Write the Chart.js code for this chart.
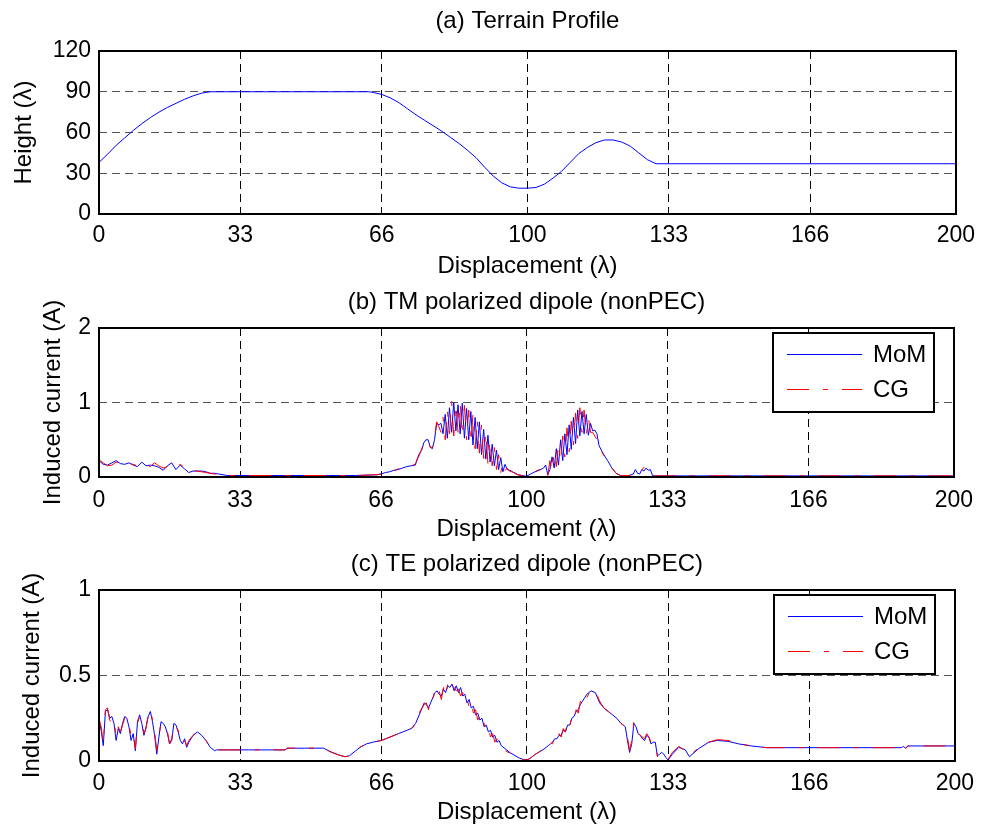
<!DOCTYPE html>
<html lang="en">

<head>
    <meta charset="UTF-8">
    <meta name="viewport" content="width=device-width, initial-scale=1.0">
    <title>Terrain Profile and Induced Current</title>
    <script src="https://cdn.jsdelivr.net/npm/chart.js"></script>
    <style>
        body {
            margin: 0;
            padding: 0;
            background-color: white;
        }

        .panel {
            position: absolute;
            left: 0;
        }
    </style>
</head>

<body>
    <canvas id="terrainChart" class="panel" width="983" height="285" style="top:0px"></canvas>
    <canvas id="tmChart" class="panel" width="983" height="260" style="top:285px"></canvas>
    <canvas id="teChart" class="panel" width="983" height="282" style="top:545px"></canvas>

    <script>
        // x ticks shared by the three panels (displacement in wavelengths)
        const xTicks = [0, 33, 66, 100, 133, 166, 200];

        // (a) terrain profile
        const terrainX = [0, 2, 4, 6, 8, 10, 12, 14, 16, 18, 20, 22, 24, 26,
            63, 64, 66, 68, 70, 72, 74, 76, 78, 80, 82, 84, 86, 88, 90, 92, 94, 96, 98, 100,
            102, 104, 106, 108, 110, 112, 114, 116, 118, 120, 122, 124, 126, 128, 130, 200];
        const terrainHeight = [38, 44, 50.5, 56, 61.5, 66.5, 71, 75, 78.5, 81.5, 84.5, 87, 89, 90,
            90, 89.5, 88, 85.5, 82, 77.5, 73, 69, 65, 61, 56.5, 52, 47, 41.5, 34.5, 28, 23, 20, 19, 19,
            19.5, 22, 26.5, 31.5, 38, 44.5, 49, 52.5, 54.5, 54.5, 53, 50, 45, 40, 37, 37];

        // (b) TM polarized dipole
        const tmX = [0, 1, 2, 3, 4, 5, 6, 7, 8, 9, 10, 11, 12, 13, 14, 15, 16, 17, 18, 19, 20, 21, 22, 23, 24, 25, 26, 27, 28, 30,
            40, 50, 60, 65,
            66, 67, 68, 69, 70, 71, 72, 73, 74, 74.5, 75, 75.5, 76, 76.5, 77, 77.5, 78, 78.5, 79, 79.5,
            80, 80.5, 81, 81.5, 82, 82.5, 83, 83.5, 84, 84.5, 85, 85.5, 86, 86.5, 87, 87.5, 88, 88.5,
            89, 89.5, 90, 90.5, 91, 91.5, 92, 92.5, 93, 93.5, 94, 94.5, 95, 95.5, 96,
            96.5, 97, 97.5, 98, 99, 100, 101, 102, 103, 104, 104.5, 105,
            105.5, 106, 106.5, 107, 107.5, 108, 108.5, 109, 109.5, 110, 110.5, 111, 111.5, 112, 112.5,
            113, 113.5, 114, 114.5, 115,
            115.5, 116, 116.5, 117, 118, 119, 120, 121, 122, 123, 124, 125, 125.5, 126, 126.5, 127,
            127.5, 128, 128.5, 129, 129.5, 130,
            140, 160, 180, 200];
        const tmMoM = [.22, .17, .16, .19, .22, .18, .17, .19, .16, .14, .2, .15, .16, .15, .13, .09, .15, .19, .1, .16, .11, .06, .08, .08, .08, .07, .05, .05, .04, .02,
            .02, .02, .02, .03,
            .04, .06, .07, .09, .1, .12, .14, .15, .16, .25, .32, .36, .46, .5, .5, .4, .38, .5, .72, .7,
            .72, .58, .84, .52, .93, .6, 1.0, .62, .97, .58, .99, .52, .92, .5, .88, .43, .8, .38,
            .74, .3, .64, .24, .56, .2, .44, .15, .36, .1, .26, .07, .17, .1, .09,
            .08, .06, .05, .03, .02, .01, .04, .07, .09, .12, .16, .03,
            .1, .27, .12, .38, .16, .5, .22, .58, .3, .7, .37, .8, .45, .9, .55,
            .88, .58, .84, .56, .72,
            .62, .63, .58, .42, .31, .22, .12, .05, .02, .02, .02, .04, .1, .05, .04, .1,
            .08, .12, .09, .1, .02, .015,
            .015, .015, .015, .015];
        const tmCG = [.23, .19, .15, .16, .2, .19, .16, .18, .17, .15, .18, .16, .14, .19, .15, .12, .14, .17, .12, .17, .13, .07, .08, .08, .07, .06, .05, .04, .04, .02,
            .02, .02, .02, .03,
            .04, .05, .07, .08, .11, .12, .14, .15, .17, .24, .3, .38, .44, .49, .48, .4, .4, .52, .74, .68,
            .6, .8, .5, .9, .58, 1.02, .55, .98, .6, 1.0, .55, .96, .5, .9, .45, .85, .38, .78,
            .32, .7, .25, .6, .18, .5, .15, .4, .1, .3, .06, .2, .09, .12, .08,
            .07, .06, .04, .03, .02, .01, .03, .07, .1, .11, .14, .02,
            .22, .08, .33, .14, .45, .2, .55, .27, .66, .34, .75, .43, .86, .52, .93,
            .6, .9, .55, .8, .6,
            .6, .55, .5, .4, .3, .21, .12, .05, .02, .02, .02, .03, .08, .07, .06, .09,
            .13, .1, .11, .1, .03, .015,
            .015, .015, .015, .015];

        // (c) TE polarized dipole
        const teX = [0, 0.5, 1, 1.5, 2, 2.5, 3, 3.5, 4, 4.5, 5, 5.5, 6, 6.5, 7, 7.5, 8, 8.5, 9, 9.5, 10,
            10.5, 11, 11.5, 12, 12.5, 13, 13.5, 14, 14.5, 15, 15.5, 16, 16.5, 17, 17.5, 18, 18.5, 19, 19.5,
            20, 20.5, 21, 22, 23, 24, 25, 26, 27,
            27.5, 30, 35, 40, 43.5, 44, 48, 52.5, 54, 56, 57.5, 58.5, 60, 61, 62.5, 64,
            66, 67, 68, 69, 70, 71, 72, 73, 74, 75, 76,
            76.5, 77, 77.5, 78, 78.5, 79, 79.5, 80, 80.5, 81, 81.5, 82, 82.5, 83, 83.5, 84, 84.5, 85,
            85.5, 86, 86.5, 87, 87.5, 88, 88.5, 89, 89.5, 90, 90.5, 91, 91.5, 92, 92.5, 93, 93.5,
            94, 95, 96, 97, 98, 99, 100,
            101, 102, 103, 104, 105,
            105.5, 106, 106.5, 107, 107.5, 108, 108.5, 109, 109.5, 110, 110.5, 111, 111.5, 112, 112.5, 113, 113.5, 114,
            115, 116, 117, 118, 119, 120, 121, 122, 123,
            123.5, 124, 124.5, 125, 125.5, 126, 126.5, 127, 127.5, 128, 128.5, 129, 129.5, 130, 130.5, 131,
            131.5, 132, 132.5, 133,
            134, 135.5, 137, 138, 140, 142.5, 144.5, 147, 149.5, 152.5, 156, 170, 187.5, 188, 188.5, 189, 200];
        const teMoM = [.24, .18, .09, .29, .3, .25, .26, .22, .12, .19, .16, .22, .26, .25, .2, .12, .16, .06, .23, .27, .22,
            .15, .2, .26, .29, .23, .15, .04, .14, .23, .22, .2, .16, .1, .12, .22, .21, .17, .12, .1,
            .13, .08, .11, .15, .17, .15, .12, .08, .06,
            .065, .065, .065, .065, .065, .075, .075, .075, .055, .035, .025, .03, .06, .08, .1, .11,
            .12, .13, .14, .15, .16, .17, .18, .19, .22, .28, .34,
            .33, .31, .34, .37, .4, .41, .39, .38, .42, .4, .44, .43, .45, .41, .44, .4, .43, .38,
            .39, .34, .36, .31, .32, .27, .28, .24, .25, .2, .21, .17, .18, .14, .15, .11, .12,
            .09, .07, .05, .035, .02, .01, .005,
            .02, .04, .055, .07, .09,
            .1, .11, .13, .13, .15, .15, .18, .17, .21, .21, .25, .26, .29, .3, .33, .35, .37, .39,
            .41, .4, .34, .31, .29, .27, .25, .22, .2,
            .12, .05, .1, .22, .2, .16, .15, .13, .12, .15, .14, .1, .11, .11, .03, .04,
            .05, .04, .02, .006,
            .04, .08, .065, .025, .07, .11, .12, .115, .1, .088, .078, .078, .078, .085, .075, .088, .088];
        const teCG = [.25, .2, .1, .3, .31, .24, .22, .24, .14, .2, .17, .21, .25, .26, .21, .15, .17, .07, .22, .26, .23,
            .16, .19, .27, .3, .24, .17, .06, .15, .22, .21, .2, .17, .1, .13, .21, .2, .18, .13, .1,
            .12, .09, .12, .15, .17, .15, .12, .08, .06,
            .065, .065, .065, .065, .065, .075, .075, .075, .055, .035, .025, .03, .06, .08, .1, .11,
            .12, .13, .14, .15, .16, .17, .18, .19, .21, .29, .33,
            .34, .3, .36, .35, .42, .39, .41, .36, .43, .38, .45, .41, .44, .43, .41, .42, .38, .4,
            .35, .37, .31, .34, .28, .3, .24, .26, .2, .22, .17, .19, .14, .16, .11, .13, .09,
            .08, .06, .045, .03, .02, .01, .005,
            .02, .04, .055, .07, .085,
            .11, .1, .14, .12, .16, .14, .19, .17, .23, .2, .26, .24, .3, .28, .35, .33, .38, .37,
            .42, .41, .35, .31, .29, .27, .25, .22, .2,
            .14, .06, .12, .23, .2, .17, .15, .14, .13, .16, .14, .11, .11, .1, .025, .04,
            .045, .04, .02, .01,
            .05, .085, .06, .03, .075, .11, .125, .12, .1, .088, .078, .078, .078, .09, .07, .088, .088];

        const fontFamily = '"Liberation Sans", Arial, sans-serif';
        Chart.defaults.font.family = fontFamily;
        Chart.defaults.color = '#000';

        const toPoints = (xs, ys) => xs.map((x, i) => ({ x: x, y: ys[i] }));

        // solid box round the plot area, like MATLAB's "box on"
        const axesBox = {
            id: 'axesBox',
            afterDatasetsDraw(chart) {
                const a = chart.chartArea;
                const ctx = chart.ctx;
                const l = Math.round(a.left), t = Math.round(a.top);
                const r = Math.round(a.right), b = Math.round(a.bottom);
                ctx.save();
                ctx.strokeStyle = '#000';
                ctx.lineWidth = 2;
                ctx.strokeRect(l, t, r - l, b - t);
                ctx.restore();
            }
        };

        // legend drawn inside the plot area, top right, with a frame
        const legendBox = {
            id: 'legendBox',
            afterDraw(chart, args, opts) {
                if (!opts.show) return;
                const a = chart.chartArea;
                const ctx = chart.ctx;
                const w = 161, h = 79;
                const x0 = Math.round(a.right) - 20 - w;
                const y0 = Math.round(a.top) + 5;
                ctx.save();
                ctx.fillStyle = '#fff';
                ctx.fillRect(x0, y0, w, h);
                ctx.strokeStyle = '#000';
                ctx.lineWidth = 2;
                ctx.strokeRect(x0, y0, w, h);
                chart.data.datasets.forEach((ds, i) => {
                    const y = y0 + 21 + i * 35;
                    ctx.strokeStyle = ds.borderColor;
                    ctx.lineWidth = 1;
                    ctx.setLineDash(ds.borderDash || []);
                    ctx.beginPath();
                    ctx.moveTo(x0 + 14, y + 0.5);
                    ctx.lineTo(x0 + 89, y + 0.5);
                    ctx.stroke();
                    ctx.setLineDash([]);
                    ctx.fillStyle = '#000';
                    ctx.font = '24px ' + fontFamily;
                    ctx.textBaseline = 'middle';
                    ctx.fillText(ds.label, x0 + 100, y + 1);
                });
                ctx.restore();
            }
        };

        function makeChart(id, p) {
            return new Chart(document.getElementById(id), {
                type: 'line',
                data: { datasets: p.datasets },
                options: {
                    responsive: false,
                    animation: false,
                    events: [],
                    layout: { padding: { left: 0, right: 26, top: 0, bottom: 0 } },
                    elements: {
                        point: { radius: 0 },
                        line: { tension: 0, borderWidth: 1, borderJoinStyle: 'bevel', fill: false }
                    },
                    plugins: {
                        legend: { display: false },
                        tooltip: { enabled: false },
                        title: {
                            display: true,
                            text: p.title,
                            fullSize: false,
                            color: '#000',
                            font: { size: 24, weight: 'normal' },
                            padding: { top: p.titleTop, bottom: p.titleBottom }
                        },
                        legendBox: { show: p.legend }
                    },
                    scales: {
                        x: {
                            type: 'linear',
                            min: 0,
                            max: 200,
                            afterBuildTicks: s => { s.ticks = xTicks.map(v => ({ value: v })); },
                            afterFit: s => { s.height = p.xAxisHeight; },
                            ticks: {
                                font: { size: 23 },
                                padding: p.xTickPad,
                                maxRotation: 0,
                                autoSkip: false,
                                callback: v => String(v)
                            },
                            grid: { color: '#000', drawTicks: false },
                            border: { display: false, dash: [8, 5] },
                            title: {
                                display: true,
                                text: 'Displacement (λ)',
                                font: { size: 24 },
                                padding: { top: 0, bottom: p.xTitlePad }
                            }
                        },
                        y: {
                            min: 0,
                            max: p.yMax,
                            afterFit: s => { s.width = 99; },
                            ticks: {
                                stepSize: p.yStep,
                                font: { size: 23 },
                                padding: 8,
                                callback: v => String(v)
                            },
                            grid: { color: '#555', drawTicks: false },
                            border: { display: false, dash: [8, 5] },
                            title: {
                                display: true,
                                text: p.yLabel,
                                font: { size: 24 },
                                padding: { top: p.yTitlePad, bottom: 0 }
                            }
                        }
                    }
                },
                plugins: [axesBox, legendBox]
            });
        }

        function currentSets(xs, mom, cg) {
            return [{
                label: 'MoM',
                data: toPoints(xs, mom),
                borderColor: '#0000ff',
                order: 1
            }, {
                label: 'CG',
                data: toPoints(xs, cg),
                borderColor: '#ff0000',
                borderDash: [22, 14, 5, 14],
                order: 0
            }];
        }

        makeChart('terrainChart', {
            title: '(a) Terrain Profile',
            yLabel: 'Height (λ)',
            yMax: 120,
            yStep: 30,
            titleTop: 7.4,
            titleBottom: 14.8,
            xAxisHeight: 71,
            xTickPad: 8,
            xTitlePad: 4.6,
            yTitlePad: 9.6,
            legend: false,
            datasets: [{
                label: 'Terrain',
                data: toPoints(terrainX, terrainHeight),
                borderColor: '#0000ff'
            }]
        });

        makeChart('tmChart', {
            title: '(b) TM polarized dipole (nonPEC)',
            yLabel: 'Induced current (A)',
            yMax: 2,
            yStep: 1,
            titleTop: 3.1,
            titleBottom: 11.1,
            xAxisHeight: 68,
            xTickPad: 10,
            xTitlePad: 1.6,
            yTitlePad: 39.4,
            legend: true,
            datasets: currentSets(tmX, tmMoM, tmCG)
        });

        makeChart('teChart', {
            title: '(c) TE polarized dipole (nonPEC)',
            yLabel: 'Induced current (A)',
            yMax: 1,
            yStep: 0.5,
            titleTop: 4.9,
            titleBottom: 11.3,
            xAxisHeight: 66,
            xTickPad: 9,
            xTitlePad: 0.6,
            yTitlePad: 17.6,
            legend: true,
            datasets: currentSets(teX, teMoM, teCG)
        });
    </script>
</body>

</html>
